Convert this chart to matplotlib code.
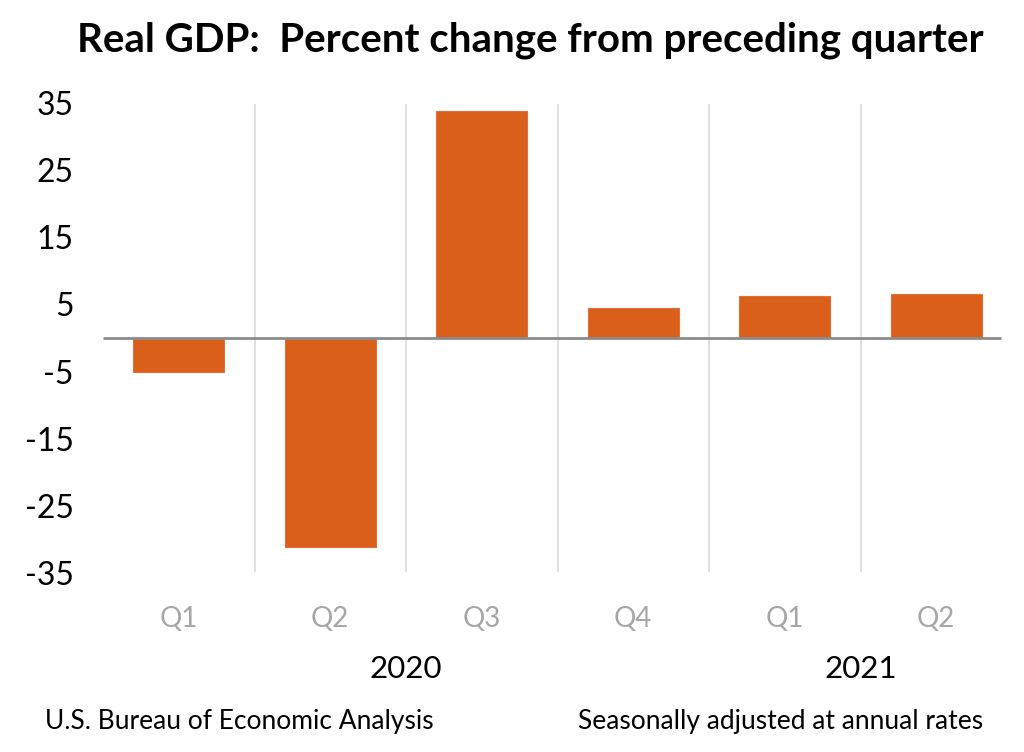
import numpy as np
from matplotlib import pyplot as plt

quarters = ['Q1', 'Q2', 'Q3', 'Q4', 'Q1', 'Q2']
years = ['2020', '2021']
year_centers = [1.5, 4.5]
gdp_change = [-5.1, -31.2, 33.8, 4.5, 6.3, 6.5]
yticks = [-35, -25, -15, -5, 5, 15, 25, 35]

plt.rcParams['font.family'] = ['Lato', 'DejaVu Sans']

fig = plt.figure(figsize=(10.24, 7.52), dpi=100)
ax = fig.add_axes([103/1024, 1 - 573/752, 909/1024, 470/752])

x = np.arange(len(gdp_change))
ax.bar(x, gdp_change, width=0.6, color='#d95f1a', edgecolor='#e0703a', linewidth=0.8, zorder=3)
ax.hlines(0, -0.5, len(gdp_change) - 0.57, color='#8c8c8c', linewidth=2, zorder=4)
for b in np.arange(0.5, len(gdp_change) - 1, 1.0):
    ax.axvline(b, ymin=0.005, ymax=0.995, color='#d9d9d9', linewidth=1.2, zorder=1)

ax.set_xlim(-0.5, len(gdp_change) - 0.5)
ax.set_ylim(-35, 35)
ax.set_yticks(yticks)
ax.set_yticklabels([str(t) for t in yticks], fontsize=23)
ax.tick_params(axis='y', length=0, pad=21)
ax.set_xticks(x)
ax.set_xticklabels(quarters, fontsize=20, color='#a6a6a6')
ax.tick_params(axis='x', length=0, pad=24)
for s in ax.spines.values():
    s.set_visible(False)

for yr, c in zip(years, year_centers):
    ax.text(c, -49.3, yr, ha='center', va='center', fontsize=22.5, transform=ax.transData, clip_on=False)

fig.text(530/1024, 1 - 40/752, 'Real GDP:  Percent change from preceding quarter',
         ha='center', va='center', fontsize=29, weight='bold')
fig.text(45/1024, 1 - 721/752, 'U.S. Bureau of Economic Analysis', ha='left', va='center', fontsize=19)
fig.text(983/1024, 1 - 721/752, 'Seasonally adjusted at annual rates', ha='right', va='center', fontsize=19)

plt.savefig('out.png', dpi=100)
